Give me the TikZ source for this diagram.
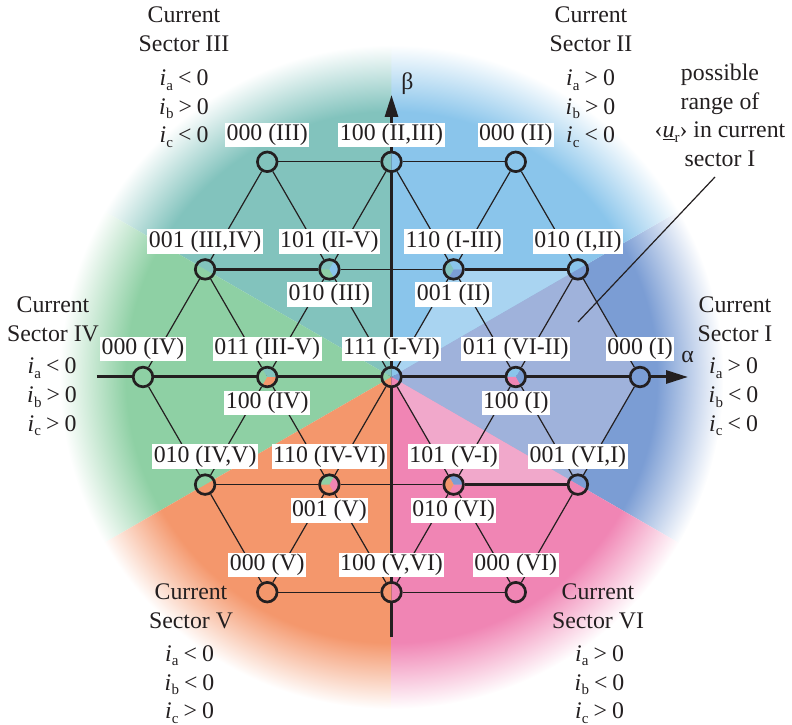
\documentclass[tikz,border=0pt]{standalone}
\usepackage{fontspec}
\setmainfont{Liberation Serif}
\usetikzlibrary{arrows.meta}
\definecolor{cI}{HTML}{7B9DD4}
\definecolor{cII}{HTML}{8AC5EB}
\definecolor{cIII}{HTML}{82C3BD}
\definecolor{cIV}{HTML}{8ED0A4}
\definecolor{cV}{HTML}{F4976C}
\definecolor{cVI}{HTML}{F085B4}
\definecolor{lI}{HTML}{9FB2DB}
\definecolor{lII}{HTML}{A9D4F1}
\definecolor{lVI}{HTML}{F1A8CB}
\definecolor{ink}{HTML}{231F20}
\pgfdeclareradialshading{shI}{\pgfpoint{0bp}{0bp}}{color(0bp)=(cI);color(20bp)=(cI);color(25bp)=(white);color(50bp)=(white)}
\pgfdeclareradialshading{shII}{\pgfpoint{0bp}{0bp}}{color(0bp)=(cII);color(20bp)=(cII);color(25bp)=(white);color(50bp)=(white)}
\pgfdeclareradialshading{shIII}{\pgfpoint{0bp}{0bp}}{color(0bp)=(cIII);color(20bp)=(cIII);color(25bp)=(white);color(50bp)=(white)}
\pgfdeclareradialshading{shIV}{\pgfpoint{0bp}{0bp}}{color(0bp)=(cIV);color(20bp)=(cIV);color(25bp)=(white);color(50bp)=(white)}
\pgfdeclareradialshading{shV}{\pgfpoint{0bp}{0bp}}{color(0bp)=(cV);color(20bp)=(cV);color(25bp)=(white);color(50bp)=(white)}
\pgfdeclareradialshading{shVI}{\pgfpoint{0bp}{0bp}}{color(0bp)=(cVI);color(20bp)=(cVI);color(25bp)=(white);color(50bp)=(white)}
\newcommand{\pie}[4]{\fill[#4] (#1.center) -- ++(#2:9.8bp) arc[start angle=#2,end angle=#3,radius=9.8bp] -- cycle;}
\newcommand{\isub}[2]{\textit{i}\kern0.3bp\raisebox{-4.5bp}{\fontsize{15bp}{15bp}\selectfont #1}\hspace{5bp}#2\hspace{5bp}0}
\begin{document}
\begin{tikzpicture}[x=1bp,y=1bp,
  font=\fontsize{23.8bp}{28bp}\selectfont,
  vtx/.style={circle,minimum size=22bp,inner sep=0pt},
  lbl/.style={fill=white,inner sep=1.5bp,text=ink},
  diag/.style={draw=ink,line width=1.2bp},
  rowthin/.style={draw=ink,line width=1.4bp},
  rowthick/.style={draw=ink,line width=3bp},
  axisline/.style={draw=ink,line width=3bp,-{Triangle[length=22bp,width=13bp]}},
  ring/.style={draw=ink,line width=2.7bp},
  txt/.style={anchor=base,inner sep=0pt,text=ink}]
\useasboundingbox (-391.5,-348) rectangle (400.5,377);
% lattice nodes (invisible anchors)
\node[vtx] (T1) at (-124.25,215.2) {};
\node[vtx] (T2) at (0,215.2) {};
\node[vtx] (T3) at (124.25,215.2) {};
\node[vtx] (U1) at (-186.375,107.6) {};
\node[vtx] (U2) at (-62.125,107.6) {};
\node[vtx] (U3) at (62.125,107.6) {};
\node[vtx] (U4) at (186.375,107.6) {};
\node[vtx] (M1) at (-248.5,0) {};
\node[vtx] (M2) at (-124.25,0) {};
\node[vtx] (M3) at (0,0) {};
\node[vtx] (M4) at (124.25,0) {};
\node[vtx] (M5) at (248.5,0) {};
\node[vtx] (L1) at (-186.375,-107.6) {};
\node[vtx] (L2) at (-62.125,-107.6) {};
\node[vtx] (L3) at (62.125,-107.6) {};
\node[vtx] (L4) at (186.375,-107.6) {};
\node[vtx] (B1) at (-124.25,-215.2) {};
\node[vtx] (B2) at (0,-215.2) {};
\node[vtx] (B3) at (124.25,-215.2) {};
% sectors
\foreach \s/\e/\sh in {-30/30/shI,30/90/shII,90/150/shIII,150/210/shIV,210/270/shV,270/330/shVI}{
  \begin{scope}
    \clip (0,0) -- (\s:345bp) arc[start angle=\s,end angle=\e,radius=345bp] -- cycle;
    \shade[shading=\sh] (0,0) circle (332bp);
  \end{scope}
}
% possible range region
\fill[lII] (M3.center) -- (U3.center) -- (U4.center) -- cycle;
\fill[lI] (M3.center) -- (U4.center) -- (M5.center) -- (L4.center) -- cycle;
\fill[lVI] (M3.center) -- (L3.center) -- (L4.center) -- cycle;
% rows
\draw[rowthin] (T1) -- (T2);
\draw[rowthin] (T2) -- (T3);
\draw[rowthick] (U1) -- (U2);
\draw[rowthin] (U2) -- (U3);
\draw[rowthick] (U3) -- (U4);
\draw[rowthin] (L1) -- (L2);
\draw[rowthin] (L2) -- (L3);
\draw[rowthick] (L3) -- (L4);
\draw[rowthin] (B1) -- (B2);
\draw[rowthin] (B2) -- (B3);
% diagonals
\draw[diag] (T1) -- (U1); \draw[diag] (T1) -- (U2);
\draw[diag] (T2) -- (U2); \draw[diag] (T2) -- (U3);
\draw[diag] (T3) -- (U3); \draw[diag] (T3) -- (U4);
\draw[diag] (U1) -- (M1); \draw[diag] (U1) -- (M2);
\draw[diag] (U2) -- (M2); \draw[diag] (U2) -- (M3);
\draw[diag] (U3) -- (M3); \draw[diag] (U3) -- (M4);
\draw[diag] (U4) -- (M4); \draw[diag] (U4) -- (M5);
\draw[diag] (M1) -- (L1); \draw[diag] (M2) -- (L1);
\draw[diag] (M2) -- (L2); \draw[diag] (M3) -- (L2);
\draw[diag] (M3) -- (L3); \draw[diag] (M4) -- (L3);
\draw[diag] (M4) -- (L4); \draw[diag] (M5) -- (L4);
\draw[diag] (L1) -- (B1); \draw[diag] (L2) -- (B1);
\draw[diag] (L2) -- (B2); \draw[diag] (L3) -- (B2);
\draw[diag] (L3) -- (B3); \draw[diag] (L4) -- (B3);
% axes
\coordinate (aW) at (-294.5,0);
\coordinate (aE) at (296.5,0);
\coordinate (bS) at (0,-260);
\coordinate (bN) at (0,282);
\draw[axisline] (aW) -- (aE);
\draw[axisline] (bS) -- (bN);
% pies
\pie{M3}{-30}{30}{cI}\pie{M3}{30}{90}{cII}\pie{M3}{90}{150}{cIII}
\pie{M3}{150}{210}{cIV}\pie{M3}{210}{270}{cV}\pie{M3}{270}{330}{cVI}
\pie{U3}{0}{120}{cII}\pie{U3}{120}{240}{cIII}\pie{U3}{240}{360}{cI}
\pie{U2}{60}{180}{cIII}\pie{U2}{180}{300}{cIV}\pie{U2}{-60}{60}{cII}
\pie{M2}{120}{240}{cIV}\pie{M2}{240}{360}{cV}\pie{M2}{0}{120}{cIII}
\pie{L2}{180}{300}{cV}\pie{L2}{-60}{60}{cVI}\pie{L2}{60}{180}{cIV}
\pie{L3}{240}{360}{cVI}\pie{L3}{0}{120}{cI}\pie{L3}{120}{240}{cV}
\pie{M4}{-60}{60}{cI}\pie{M4}{60}{180}{cII}\pie{M4}{180}{300}{cVI}
\pie{U4}{30}{210}{cII}\pie{U4}{210}{390}{cI}
\pie{T2}{90}{270}{cIII}\pie{T2}{-90}{90}{cII}
\pie{U1}{150}{330}{cIV}\pie{U1}{-30}{150}{cIII}
\pie{L1}{210}{390}{cV}\pie{L1}{30}{210}{cIV}
\pie{B2}{270}{450}{cVI}\pie{B2}{90}{270}{cV}
\pie{L4}{-30}{150}{cI}\pie{L4}{150}{330}{cVI}
\pie{M5}{0}{360}{cI}\pie{T3}{0}{360}{cII}\pie{T1}{0}{360}{cIII}
\pie{M1}{0}{360}{cIV}\pie{B1}{0}{360}{cV}\pie{B3}{0}{360}{cVI}
% rings
\foreach \n in {T1,T2,T3,U1,U2,U3,U4,M1,M2,M3,M4,M5,L1,L2,L3,L4,B1,B2,B3}{
  \draw[ring] (\n.center) circle (9.8bp);
}
% vector labels
\node[lbl,yshift=27bp] (tT1) at (T1) {000 (III)};
\node[lbl,yshift=27bp] (tT2) at (T2) {100 (II,III)};
\node[lbl,yshift=27bp] (tT3) at (T3) {000 (II)};
\node[lbl,yshift=28bp] (tU1) at (U1) {001 (III,IV)};
\node[lbl,yshift=28bp] (tU2) at (U2) {101 (II-V)};
\node[lbl,yshift=-25bp] (bU2) at (U2) {010 (III)};
\node[lbl,yshift=28bp] (tU3) at (U3) {110 (I-III)};
\node[lbl,yshift=-25bp] (bU3) at (U3) {001 (II)};
\node[lbl,yshift=28bp] (tU4) at (U4) {010 (I,II)};
\node[lbl,yshift=28bp] (tM1) at (M1) {000 (IV)};
\node[lbl,yshift=28bp] (tM2) at (M2) {011 (III-V)};
\node[lbl,yshift=-26bp] (bM2) at (M2) {100 (IV)};
\node[lbl,yshift=28bp] (tM3) at (M3) {111 (I-VI)};
\node[lbl,yshift=28bp] (tM4) at (M4) {011 (VI-II)};
\node[lbl,yshift=-26bp] (bM4) at (M4) {100 (I)};
\node[lbl,yshift=28bp] (tM5) at (M5) {000 (I)};
\node[lbl,yshift=28bp] (tL1) at (L1) {010 (IV,V)};
\node[lbl,yshift=28bp] (tL2) at (L2) {110 (IV-VI)};
\node[lbl,yshift=-26bp] (bL2) at (L2) {001 (V)};
\node[lbl,yshift=28bp] (tL3) at (L3) {101 (V-I)};
\node[lbl,yshift=-26bp] (bL3) at (L3) {010 (VI)};
\node[lbl,yshift=28bp] (tL4) at (L4) {001 (VI,I)};
\node[lbl,yshift=27bp] (tB1) at (B1) {000 (V)};
\node[lbl,yshift=27bp] (tB2) at (B2) {100 (V,VI)};
\node[lbl,yshift=27bp] (tB3) at (B3) {000 (VI)};
% axis names
\node[txt] (alpha) at (296,14) {α};
\node[txt] (beta) at (16,287) {β};
% sector texts
\node[txt] (s3a) at (-207.5,354) {Current};
\node[txt] (s3b) at (-207.5,325) {Sector III};
\node[txt] (s3c) at (-207.5,291) {\isub{a}{<}};
\node[txt] (s3d) at (-207.5,262.5) {\isub{b}{>}};
\node[txt] (s3e) at (-207.5,234) {\isub{c}{<}};
\node[txt] (s2a) at (199.5,354) {Current};
\node[txt] (s2b) at (199.5,325) {Sector II};
\node[txt] (s2c) at (199,291) {\isub{a}{>}};
\node[txt] (s2d) at (199,262.5) {\isub{b}{>}};
\node[txt] (s2e) at (199,234) {\isub{c}{<}};
\node[txt] (pr1) at (328.5,296) {possible};
\node[txt] (pr2) at (328.5,267.5) {range of};
\node[txt] (pr3) at (328.5,239) {\char"2039\underline{\textit{u}}\raisebox{-4.5bp}{\fontsize{15bp}{15bp}\selectfont r}\char"203A{} in current};
\node[txt] (pr4) at (328.5,210.5) {sector I};
\node[txt] (s4a) at (-338.5,64) {Current};
\node[txt] (s4b) at (-338.5,35.5) {Sector IV};
\node[txt] (s4c) at (-339.5,3) {\isub{a}{<}};
\node[txt] (s4d) at (-339.5,-26) {\isub{b}{>}};
\node[txt] (s4e) at (-339.5,-54.5) {\isub{c}{>}};
\node[txt] (s1a) at (343.5,64) {Current};
\node[txt] (s1b) at (343.5,35.5) {Sector I};
\node[txt] (s1c) at (342,3) {\isub{a}{>}};
\node[txt] (s1d) at (342,-26) {\isub{b}{<}};
\node[txt] (s1e) at (342,-54.5) {\isub{c}{<}};
\node[txt] (s5a) at (-200.5,-222) {Current};
\node[txt] (s5b) at (-200.5,-251) {Sector V};
\node[txt] (s5c) at (-202,-284) {\isub{a}{<}};
\node[txt] (s5d) at (-202,-313) {\isub{b}{<}};
\node[txt] (s5e) at (-202,-341.5) {\isub{c}{>}};
\node[txt] (s6a) at (206.5,-222) {Current};
\node[txt] (s6b) at (206.5,-251) {Sector VI};
\node[txt] (s6c) at (208,-284) {\isub{a}{>}};
\node[txt] (s6d) at (208,-313) {\isub{b}{<}};
\node[txt] (s6e) at (208,-341.5) {\isub{c}{>}};
% pointer
\coordinate (pA) at (186.5,55);
\coordinate (pB) at (323.5,200);
\draw[ink,line width=1.2bp] (pA) -- (pB);
\end{tikzpicture}
\end{document}
